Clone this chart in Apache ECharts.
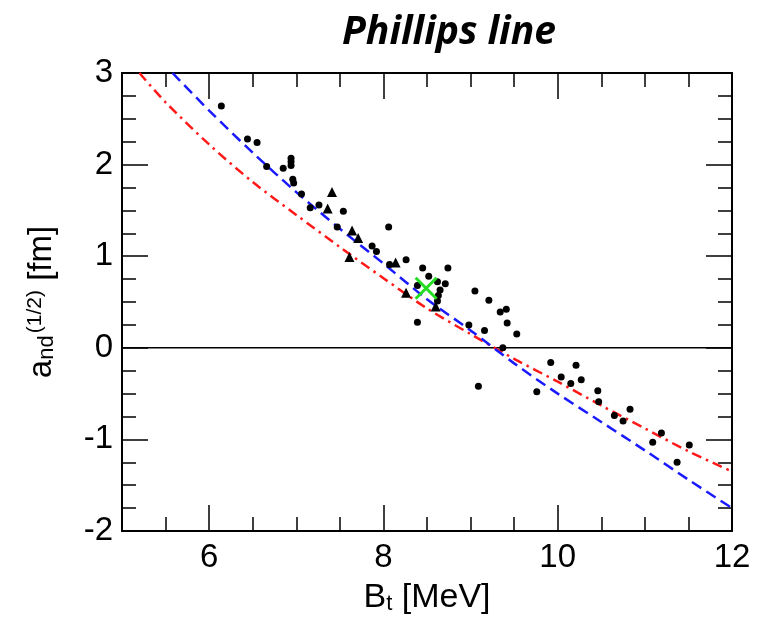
<!DOCTYPE html>
<html>
<head>
<meta charset="utf-8">
<script src="https://cdn.jsdelivr.net/npm/echarts@6/dist/echarts.min.js"></script>
<style>html,body{margin:0;padding:0;background:#fff;}#c{width:759px;height:620px;}</style>
</head>
<body>
<div id="c"></div>
<script>
// ---- data ----
const xTickLabels = [6, 8, 10, 12];
const yTickLabels = [-2, -1, 0, 1, 2, 3];

const circlePoints = [
  [6.14,2.64],[6.44,2.28],[6.55,2.24],[6.66,1.98],[6.85,1.96],[6.94,2.07],[6.94,2.03],[6.94,1.99],
  [6.96,1.84],[6.97,1.80],[7.06,1.68],[7.16,1.53],[7.26,1.56],[7.54,1.49],[7.47,1.32],[7.87,1.11],
  [7.92,1.05],[8.06,1.32],[8.07,0.91],[8.26,0.96],[8.45,0.87],[8.74,0.87],[8.52,0.78],[8.39,0.68],
  [8.62,0.72],[8.71,0.70],[8.65,0.63],[8.63,0.57],[8.62,0.51],[8.39,0.28],[8.98,0.25],[9.05,0.62],
  [9.21,0.52],[9.34,0.39],[9.41,0.42],[9.42,0.27],[9.53,0.15],[9.16,0.19],[9.37,0.00],[9.09,-0.42],
  [9.92,-0.16],[10.21,-0.19],[9.76,-0.48],[10.04,-0.32],[10.15,-0.39],[10.27,-0.35],[10.46,-0.47],
  [10.47,-0.59],[10.65,-0.74],[10.75,-0.80],[10.83,-0.67],[11.19,-0.93],[11.09,-1.03],[11.51,-1.06],
  [11.37,-1.25]
];
const trianglePoints = [
  [7.41,1.70],[7.36,1.52],[7.64,1.28],[7.71,1.20],[7.61,0.99],[8.14,0.93],[8.26,0.60],[8.60,0.45]
];
const crossPoint = [[8.49, 0.65]];

const blueX = [5.58, 6.0, 6.5, 7.0, 7.5, 8.0, 8.5, 9.0, 9.5, 10.0, 10.5, 11.0, 11.5, 12.0];
const blueY = [3.0, 2.59, 2.13, 1.70, 1.30, 0.92, 0.53, 0.19, -0.17, -0.50, -0.81, -1.12, -1.44, -1.75];
const redX  = [5.2, 5.5, 6.0, 6.5, 7.0, 7.5, 8.0, 8.5, 9.0, 9.5, 10.0, 10.5, 11.0, 11.5, 12.0];
const redY  = [3.0, 2.68, 2.22, 1.81, 1.45, 1.10, 0.76, 0.43, 0.15, -0.12, -0.37, -0.63, -0.88, -1.13, -1.35];
const zeroLine = [[5, 0], [12, 0]];

// ---- chart ----
const FONT = 'Liberation Sans';
const X_MIN = 5, X_MAX = 12, Y_MIN = -2, Y_MAX = 3;
const zip = (xs, ys) => xs.map((x, i) => [x, ys[i]]);

function xAx(pos, major, withLabels) {
  const a = {
    type: 'value', position: pos, min: X_MIN, max: X_MAX, interval: 0.5,
    splitLine: { show: false },
    axisLine: { show: !major, onZero: false, lineStyle: { color: '#000', width: 2 } },
    axisTick: { show: true, inside: true, length: major ? 26 : 14, lineStyle: { color: '#000', width: 1.5 } },
    axisLabel: { show: false }
  };
  if (major) a.axisTick.customValues = xTickLabels;
  if (withLabels) {
    a.axisLabel = { show: true, customValues: xTickLabels, fontFamily: FONT, fontSize: 33, color: '#000', margin: 10 };
    a.name = '{b|B}{s|t}{b| [MeV]}';
    a.nameLocation = 'middle';
    a.nameGap = 50;
    a.nameTextStyle = { rich: {
      b: { fontFamily: FONT, fontSize: 34, color: '#000' },
      s: { fontFamily: FONT, fontSize: 22, color: '#000', verticalAlign: 'bottom' }
    } };
  }
  return a;
}
function yAx(pos, withLabels) {
  const a = {
    type: 'value', position: pos, min: Y_MIN, max: Y_MAX, interval: 1,
    splitLine: { show: false },
    axisLine: { show: true, onZero: false, lineStyle: { color: '#000', width: 2 } },
    axisTick: { show: true, inside: true, length: 26, lineStyle: { color: '#000', width: 1.5 } },
    minorTick: { show: true, splitNumber: 4, length: 14, lineStyle: { color: '#000', width: 1.5 } },
    axisLabel: { show: false }
  };
  if (withLabels) {
    a.axisLabel = { show: true, fontFamily: FONT, fontSize: 33, color: '#000', margin: 9 };
    a.name = '{a|a}{s|nd}{g| }{p|(1/2)}{a| [fm]}';
    a.nameLocation = 'middle';
    a.nameRotate = 90;
    a.nameGap = 64;
    a.nameTextStyle = { rich: {
      a: { fontFamily: FONT, fontSize: 33, color: '#000' },
      s: { fontFamily: FONT, fontSize: 22, color: '#000', verticalAlign: 'bottom' },
      g: { fontFamily: FONT, fontSize: 8 },
      p: { fontFamily: FONT, fontSize: 21, color: '#000', verticalAlign: 'top' }
    } };
  }
  return a;
}

const chart = echarts.init(document.getElementById('c'), null, { renderer: 'canvas' });
chart.setOption({
  animation: false,
  backgroundColor: '#fff',
  title: {
    text: 'Phillips line', left: 444, top: 8, textAlign: 'center',
    textStyle: { fontFamily: 'Open Sans', fontSize: 39, fontWeight: 'bold', fontStyle: 'italic', color: '#000' }
  },
  grid: { left: 122, right: 27, top: 73, bottom: 89, containLabel: false },
  xAxis: [xAx('bottom', false, true), xAx('bottom', true, false), xAx('top', false, false), xAx('top', true, false)],
  yAxis: [yAx('left', true), yAx('right', false)],
  series: [
    { type: 'line', data: zeroLine, symbol: 'none', lineStyle: { color: '#000', width: 1.5 }, z: 2 },
    { type: 'line', data: zip(redX, redY), smooth: 0.3, symbol: 'none',
      lineStyle: { color: '#ff1a1a', width: 2.5, type: [10, 5, 2.5, 5] }, z: 3 },
    { type: 'line', data: zip(blueX, blueY), smooth: 0.3, symbol: 'none',
      lineStyle: { color: '#1a1aff', width: 2.5, type: [11, 6] }, z: 3 },
    { type: 'scatter', data: circlePoints, symbol: 'circle', symbolSize: 7,
      itemStyle: { color: '#000', opacity: 1 }, z: 4 },
    { type: 'scatter', data: trianglePoints, symbol: 'triangle', symbolSize: 10,
      itemStyle: { color: '#000', opacity: 1 }, z: 4 },
    { type: 'scatter', data: crossPoint, symbol: 'path://M0,0L10,10M10,0L0,10', symbolSize: 21,
      itemStyle: { color: 'none', borderColor: '#22dd22', borderWidth: 3, opacity: 1 }, z: 5 }
  ]
});
</script>
</body>
</html>
